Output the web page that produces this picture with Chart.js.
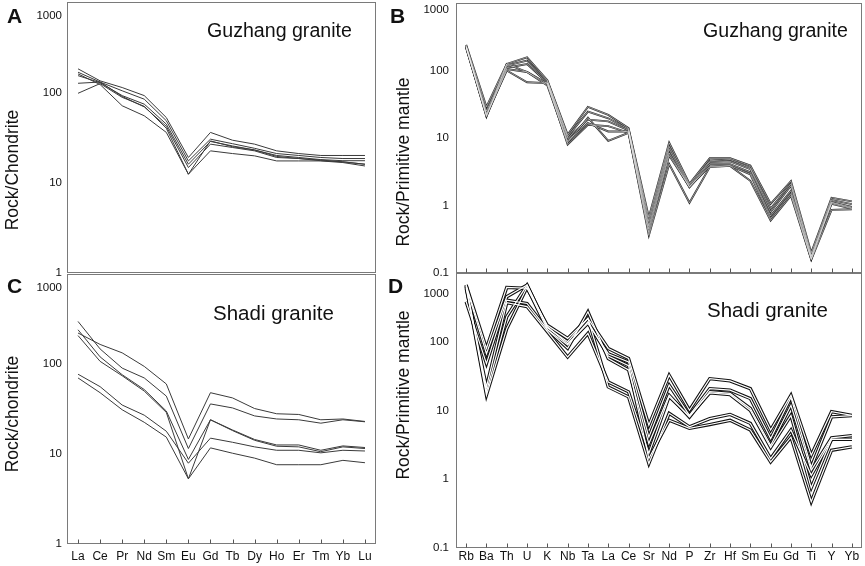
<!DOCTYPE html>
<html><head><meta charset="utf-8">
<script src="https://cdn.jsdelivr.net/npm/chart.js@4.4.1/dist/chart.umd.min.js"></script>
<style>
html,body{margin:0;padding:0;background:#fff;}
body{width:865px;height:566px;position:relative;overflow:hidden;font-family:"Liberation Sans",Arial,sans-serif;}
canvas{position:absolute;}
.t{position:absolute;white-space:nowrap;line-height:1;color:#111;}
.letter{font-weight:bold;font-size:21px;}
.ins{font-size:19.6px;}
.ins2{font-size:20.5px;}
.yt{font-size:17.5px;transform:translate(-50%,-50%) rotate(-90deg);}
</style></head><body>
<canvas id="cA" width="390" height="320" style="left:0px;top:-30px;width:390px;height:320px"></canvas>
<canvas id="cB" width="475" height="320" style="left:390px;top:-30px;width:475px;height:320px"></canvas>
<canvas id="cC" width="390" height="326" style="left:0px;top:240px;width:390px;height:326px"></canvas>
<canvas id="cD" width="475" height="336" style="left:390px;top:230px;width:475px;height:336px"></canvas>

<div class="t letter" style="left:7px;top:5px">A</div>
<div class="t letter" style="left:390px;top:5px">B</div>
<div class="t letter" style="left:7px;top:275px">C</div>
<div class="t letter" style="left:388px;top:275px">D</div>
<div class="t ins" style="left:207px;top:21px">Guzhang granite</div>
<div class="t ins" style="left:703px;top:21px">Guzhang granite</div>
<div class="t ins2" style="left:213px;top:303px">Shadi granite</div>
<div class="t ins2" style="left:707px;top:300px">Shadi granite</div>
<div class="t yt" style="left:12.5px;top:170px">Rock/Chondrite</div>
<div class="t yt" style="left:404px;top:162px">Rock/Primitive mantle</div>
<div class="t yt" style="left:12.5px;top:414px">Rock/chondrite</div>
<div class="t yt" style="left:404px;top:395px">Rock/Primitive mantle</div>

<script>
// ---- categories ----
const reeElements = ['La','Ce','Pr','Nd','Sm','Eu','Gd','Tb','Dy','Ho','Er','Tm','Yb','Lu'];
const spiderElements = ['Rb','Ba','Th','U','K','Nb','Ta','La','Ce','Sr','Nd','P','Zr','Hf','Sm','Eu','Gd','Ti','Y','Yb'];

// ---- tick labels ----
const reeTicks = [1, 10, 100, 1000];
const spiderTicks = [0.1, 1, 10, 100, 1000];

// ---- A: Guzhang granite, chondrite-normalized REE ----
const guzhangREE1 = [182,134,113,92,52.6,19,36,29.5,26.7,22.5,21,20,20,20];
const guzhangREE2 = [167,130,104,84,48.5,17.4,30.3,27,24,21,20,19,18.5,18.5];
const guzhangREE3 = [153,128,92,74,44.5,16,28.6,25.5,23,20,19,18,17.5,17.5];
const guzhangREE4 = [126,130,90,69,42,14.7,26.7,24.5,22.5,19,18.5,17.5,17,16];
const guzhangREE5 = [97.6,125,88,70,40,12.4,22.5,21,19.8,17.4,17.4,17.4,16.7,15.3];
const guzhangREE6 = [160,122,71,55,36,12.4,29,25,23,19.5,18.5,17.8,17,16];

// ---- B: Guzhang granite, primitive-mantle-normalized ----
const guzhangPM1 = [240,29,125,157,72,11.2,29,22,14,0.67,8.5,2.1,5.0,5.0,3.9,1.06,2.3,0.2,1.3,1.15];
const guzhangPM2 = [230,25,118,140,70,10.5,24.6,19.6,13.5,0.58,7.5,2.0,4.6,4.8,3.6,0.9,2.1,0.18,1.2,1.05];
const guzhangPM3 = [225,23,110,125,66,10,18.7,17.6,13,0.5,6.8,1.9,4.4,4.5,3.45,0.8,1.96,0.175,1.12,0.95];
const guzhangPM4 = [220,21,105,95,64,9,16.6,12.5,12.5,0.45,6.0,1.85,4.1,4.1,3.1,0.7,1.66,0.165,1.06,0.9];
const guzhangPM5 = [215,22,100,67,65,8,15.7,15,12,0.4,5.5,1.9,3.8,3.9,2.9,0.64,1.5,0.16,1.1,0.92];
const guzhangPM6 = [225,20.8,125,95,60,8.5,20,9.1,11.9,0.36,4.1,1.1,3.7,3.86,2.32,0.6,1.4,0.157,0.86,0.88];

// ---- C: Shadi granite, chondrite-normalized REE ----
const shadiREE1 = [221,165,133,94,60,14.7,48,42,32,28,27.5,24,24.5,23];
const shadiREE2 = [297,147,90,70,44,11.5,36,32.5,26.5,24.5,24,22,24,22.8];
const shadiREE3 = [240,120,76,52,30,8.7,24,18.5,14.5,12.6,12.6,11,12.3,11.8];
const shadiREE4 = [207,107,74,50,29,5.3,24,18.2,14.2,12.2,12,10.6,12,11.5];
const shadiREE5 = [77,56,35,27,17.9,7.9,15,13.5,12,11,11,10.3,11,10.8];
const shadiREE6 = [70,48,31,22.5,15.4,5.3,11.7,10.2,9,7.6,7.6,7.6,8.5,8];

// ---- D: Shadi granite, primitive-mantle-normalized ----
const shadiPM1 = [667,80,618,600,174,112,219,80,57,6.1,32.6,10.1,29,27,20.8,5.2,16.7,2.24,9.6,8.5];
const shadiPM2 = [640,67,452,667,165,94,185,67,51,4.1,23.4,8.5,20.8,19.8,14.9,3.9,15.5,1.5,8.1,8.4];
const shadiPM3 = [382,48,403,360,150,80,273,57,39,3.3,16.7,8.0,18.8,17.7,10.7,3.1,11.9,1.35,4.0,4.3];
const shadiPM4 = [600,22,370,325,140,60,132,26,18.7,2.37,16,8.3,18,17,10,2.9,8.5,0.75,3.8,3.8];
const shadiPM5 = [667,18.7,231,667,160,100,219,22,15.8,1.69,9.1,5.8,7.6,8.75,6.5,2.0,5.2,1.14,3.8,3.8];
const shadiPM6 = [640,16.7,155,620,150,90,195,62,45,2.0,7.2,5.5,6.25,7.2,5.2,1.79,4.1,0.47,2.64,2.96];

const FONT = '"Liberation Sans", Arial, sans-serif';

const boxPlugin = {
  id: 'box',
  afterDraw(chart, args, opts) {
    const ctx = chart.ctx, a = chart.chartArea;
    ctx.save();
    ctx.strokeStyle = '#7a7a7a';
    ctx.lineWidth = 1;
    const l = Math.round(a.left) + 0.5, t = Math.round(a.top) + 0.5;
    ctx.strokeRect(l, t, Math.round(a.right) - 1 - l + 0.5, Math.round(a.bottom) - 1 - t + 0.5);
    if (opts && opts.ticks) {
      const xs = chart.scales.x;
      ctx.strokeStyle = '#555';
      ctx.beginPath();
      const n = chart.data.labels.length;
      for (let i = 0; i < n; i++) {
        const x = Math.round(xs.getPixelForValue(i)) + 0.5;
        ctx.moveTo(x, a.bottom - 0.5);
        ctx.lineTo(x, a.bottom - 4.5);
      }
      ctx.stroke();
    }
    ctx.restore();
  }
};
Chart.register(boxPlugin);

function plainSets(series, color, width) {
  return series.map(d => ({data: d, borderColor: color, borderWidth: width, pointRadius: 0, tension: 0, fill: false}));
}
function hollowSets(series, outer, ow, iw) {
  const sets = [];
  series.forEach(d => sets.push({data: d, borderColor: '#ffffff', borderWidth: iw, pointRadius: 0, tension: 0, fill: false, order: 0}));
  series.forEach(d => sets.push({data: d, borderColor: outer, borderWidth: ow, pointRadius: 0, tension: 0, fill: false, order: 1}));
  return sets;
}
function fmt(v) { return v < 1 ? String(v) : String(Math.round(v)); }

function yScale(min, max, vals, topLines, pad, width) {
  return {
    type: 'logarithmic', min: min, max: max,
    afterBuildTicks(s) { s.ticks = vals.map(v => ({value: v})); },
    afterFit(s) { s.width = width; },
    grid: {display: false, drawTicks: false},
    border: {display: false},
    ticks: {
      padding: pad, color: '#111', font: {family: FONT, size: 11.5},
      callback(v) {
        const lab = fmt(v);
        if (v === max) return Array(topLines).fill('').concat([lab]);
        return lab;
      }
    }
  };
}
function xScale(show, pad, h) {
  return {
    type: 'category', offset: true, display: show,
    grid: {display: false, drawTicks: false},
    border: {display: false},
    ticks: {padding: pad, color: '#111', font: {family: FONT, size: 12}, autoSkip: false, maxRotation: 0, minRotation: 0},
    afterFit(s) { s.height = h; }
  };
}
function make(id, labels, datasets, y, x, padding, ticks) {
  return new Chart(document.getElementById(id), {
    type: 'line',
    data: {labels: labels, datasets: datasets},
    options: {
      responsive: false, animation: false, events: [],
      layout: {padding: padding},
      plugins: {legend: {display: false}, tooltip: {enabled: false}, box: {ticks: ticks}},
      scales: {x: x, y: y}
    }
  });
}

make('cA', reeElements,
  plainSets([guzhangREE1, guzhangREE2, guzhangREE3, guzhangREE4, guzhangREE5, guzhangREE6], '#3a3a3a', 1),
  yScale(1, 1000, reeTicks, 2, 5, 67), xScale(false, 0, 0),
  {left: 0, top: 32, right: 14, bottom: 17}, false);

make('cB', spiderElements,
  hollowSets([guzhangPM1, guzhangPM2, guzhangPM3, guzhangPM4, guzhangPM5, guzhangPM6], '#262626', 1.9, 0.5),
  yScale(0.1, 1000, spiderTicks, 1, 7, 66), xScale(false, 0, 0),
  {left: 0, top: 33, right: 3, bottom: 17}, true);

make('cC', reeElements,
  plainSets([shadiREE1, shadiREE2, shadiREE3, shadiREE4, shadiREE5, shadiREE6], '#3a3a3a', 1),
  yScale(1, 1000, reeTicks, 2, 5, 67), xScale(true, 5.8, 20),
  {left: 0, top: 34, right: 14, bottom: 2}, true);

make('cD', spiderElements,
  hollowSets([shadiPM1, shadiPM2, shadiPM3, shadiPM4, shadiPM5, shadiPM6], '#111111', 3.3, 1.2),
  yScale(0.1, 1000, spiderTicks, 3, 7, 66), xScale(true, 1.8, 16),
  {left: 0, top: 43, right: 3, bottom: 2}, true);
</script>
</body></html>
